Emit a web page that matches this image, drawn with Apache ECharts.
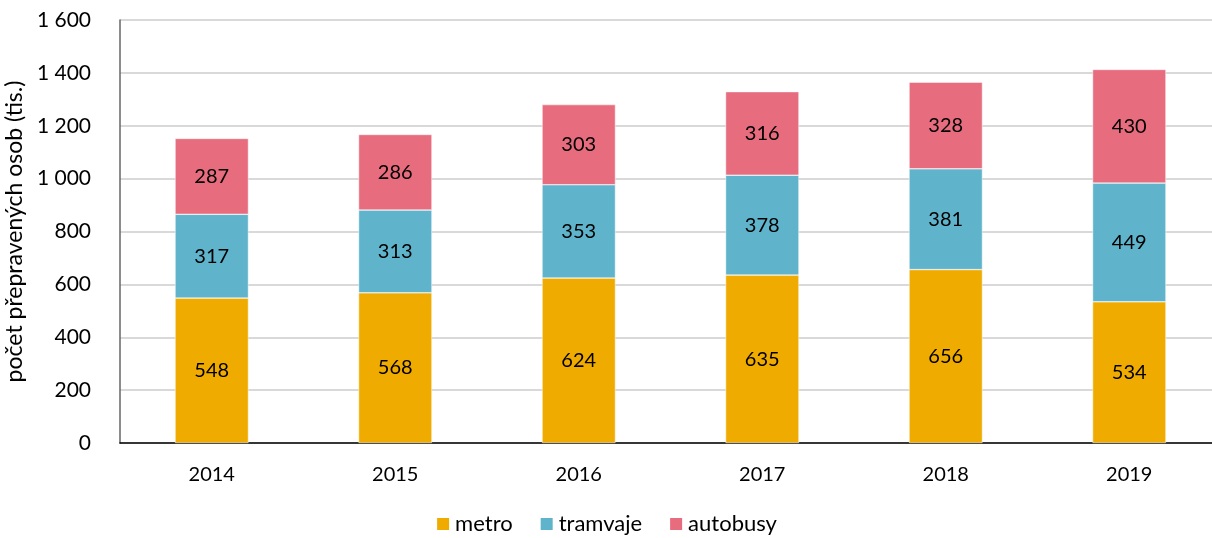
<!DOCTYPE html>
<html>
<head>
<meta charset="utf-8">
<script src="https://cdn.jsdelivr.net/npm/echarts@6/dist/echarts.min.js"></script>
<style>
  html, body { margin: 0; padding: 0; background: #fff; }
  #chart { width: 1212px; height: 538px; }
</style>
</head>
<body>
<div id="chart"></div>
<script>
const years = ['2014', '2015', '2016', '2017', '2018', '2019'];
const metro = [548, 568, 624, 635, 656, 534];
const tramvaje = [317, 313, 353, 378, 381, 449];
const autobusy = [287, 286, 303, 316, 328, 430];

const font = 'Lato';
const fmt = (v) => String(v).replace(/\B(?=(\d{3})+(?!\d))/g, ' ');

const chart = echarts.init(document.getElementById('chart'));

const mkSeries = (name, data, color) => ({
  name: name,
  type: 'bar',
  stack: 'total',
  data: data,
  barWidth: '40%',
  itemStyle: { color: color, borderColor: '#fff', borderWidth: 0.5 },
  label: {
    show: true,
    position: 'inside',
    color: '#000',
    fontFamily: font,
    fontSize: 20
  },
  emphasis: { disabled: true }
});

chart.setOption({
  animation: false,
  grid: { left: 120, right: -9, top: 20, bottom: 95, outerBoundsMode: 'none', containLabel: false },
  legend: {
    bottom: -2,
    left: 'center',
    itemWidth: 14,
    itemHeight: 14,
    itemGap: 26,
    icon: 'rect',
    textStyle: { fontFamily: font, fontSize: 22, color: '#000' },
    data: ['metro', 'tramvaje', 'autobusy']
  },
  xAxis: {
    type: 'category',
    data: years,
    axisLine: { lineStyle: { color: '#000', width: 1.5 } },
    axisTick: { show: false },
    axisLabel: { fontFamily: font, fontSize: 20, color: '#000', margin: 22 }
  },
  yAxis: {
    type: 'value',
    min: 0,
    max: 1600,
    interval: 200,
    name: 'počet přepravených osob (tis.)',
    nameLocation: 'middle',
    nameGap: 87,
    nameTextStyle: { fontFamily: font, fontSize: 23, color: '#000' },
    axisLine: { show: true, lineStyle: { color: '#666', width: 1.5 } },
    axisTick: { show: false },
    splitLine: { lineStyle: { color: '#d9d9d9', width: 2 } },
    axisLabel: {
      fontFamily: font,
      fontSize: 21,
      color: '#000',
      margin: 29,
      formatter: fmt
    }
  },
  series: [
    mkSeries('metro', metro, '#F0AB00'),
    mkSeries('tramvaje', tramvaje, '#5FB3CB'),
    mkSeries('autobusy', autobusy, '#E76C7E')
  ]
});
</script>
</body>
</html>
